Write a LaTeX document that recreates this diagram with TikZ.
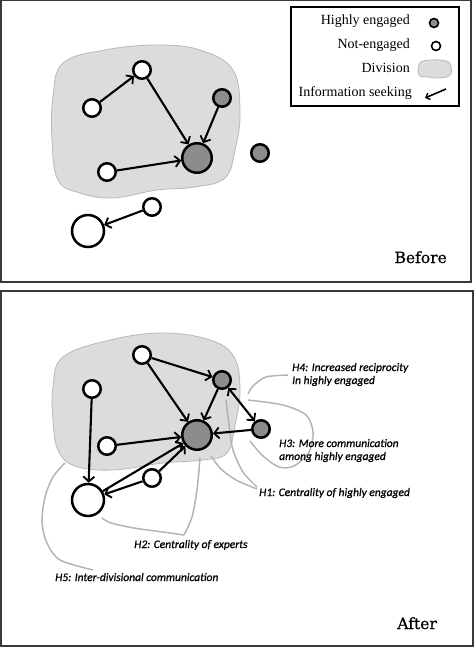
\documentclass[tikz,border=0pt]{standalone}
\usepackage{fontspec}
\setmainfont{Liberation Serif}
\newfontfamily\annfont[FakeBold=0.9]{Carlito}
\newfontfamily\titlefont[FakeBold=0.7]{DejaVu Serif}
\usetikzlibrary{arrows.meta}
\definecolor{hgray}{HTML}{8C8C8C}
\definecolor{blobfill}{HTML}{DCDCDC}
\definecolor{blobline}{HTML}{B8B8B8}
\definecolor{agray}{HTML}{B4B4B4}
\definecolor{panelline}{HTML}{3A3A3A}
\begin{document}
\begin{tikzpicture}[x=1pt,y=-1pt,
  nd/.style={circle,draw=black,line width=2.5pt,inner sep=0pt,minimum size=17.5pt,fill=white},
  hi/.style={nd,fill=hgray},
  bigS/.style={minimum size=29.5pt},
  bigW/.style={minimum size=32pt},
  seek/.style={line width=2.1pt,-{Straight Barb[length=5pt,width=11pt,line width=1.8pt]}},
  seekboth/.style={line width=2.1pt,{Straight Barb[length=5pt,width=11pt,line width=1.8pt]}-{Straight Barb[length=5pt,width=11pt,line width=1.8pt]}},
  ann/.style={draw=agray,line width=1.5pt},
  blobst/.style={fill=blobfill,draw=blobline,line width=0.8pt},
  anntext/.style={font=\annfont\itshape\fontsize{11.5}{13}\selectfont,anchor=base west,inner sep=0pt},
  leg/.style={font=\fontsize{14}{16}\selectfont,anchor=base east,inner sep=0pt},
  ttl/.style={font=\titlefont\fontsize{15.5}{18}\selectfont,anchor=base east,inner sep=0pt},
  panel/.style={draw=panelline,line width=1.5pt},
  lgd/.style={circle,draw=black,line width=1.6pt,inner sep=0pt,minimum size=9pt}
]
\useasboundingbox (0,0) rectangle (474,647);

% ---------------- panels
\draw[panel] (0.75,0.75) rectangle (471,282);
\draw[panel] (0.75,291) rectangle (473,646);

% ---------------- legend
\draw[line width=1.5pt] (291,7) rectangle (459,106);
\node[leg] (l1) at (410,25) {Highly engaged};
\node[leg] (l2) at (410,49) {Not-engaged};
\node[leg] (l3) at (410,73) {Division};
\node[leg] (l4) at (412,97) {Information seeking};
\node[lgd,fill=hgray] (lg1) at (434,23) {};
\node[lgd,fill=white] (lg2) at (436,46) {};
\draw[blobst] plot[smooth cycle,tension=0.7] coordinates {(420,63) (431,60) (446,61) (451,66) (450,75) (440,78) (428,77) (419,75)};
\coordinate (la1) at (446,89);
\coordinate (la2) at (425,98);
\draw[line width=1.6pt,-{Straight Barb[length=3.5pt,width=7pt,line width=1.4pt]}] (la1) -- (la2);

% ---------------- BEFORE
\draw[blobst] plot[smooth cycle,tension=0.65] coordinates {(53,97) (63,63) (105,50) (157,45) (200,50) (233,70) (240,113) (235,150) (225,178) (195,187) (157,190) (113,198) (80,193) (58,180) (52,140)};
\node[nd] (A) at (142,70) {};
\node[nd] (B) at (92,108) {};
\node[hi] (C) at (222,98) {};
\node[hi,bigS] (D) at (197,158) {};
\node[nd] (E) at (107,172) {};
\node[hi] (F) at (260,153) {};
\node[nd] (G) at (152,207) {};
\node[nd,bigW] (H) at (88,231) {};
\draw[seek] (B) -- (A);
\draw[seek] (A) -- (D);
\draw[seek] (C) -- (D);
\draw[seek] (E) -- (D);
\draw[seek] (G) -- (H);
\node[ttl] (before) at (447,263) {Before};

% ---------------- AFTER
\draw[blobst] plot[smooth cycle,tension=0.65] coordinates {(53,387) (63,357) (110,340) (163,333) (210,340) (234,357) (240,390) (235,425) (227,453) (203,460) (163,463) (113,470) (75,466) (58,450) (53,420)};

% annotation curves
\draw[ann] plot[smooth] coordinates {(288,375) (266,377) (253,386) (248,394)};
\draw[ann] plot[smooth] coordinates {(248,400) (283,405) (306,415) (313,432) (309,452) (294,466) (279,467) (263,456) (250,441)};
\draw[ann] plot[smooth] coordinates {(257,489) (236,480) (221,469) (211,456)};
\draw[ann] plot[smooth] coordinates {(257,487) (243,472) (233,450) (229,425) (226,400)};
\draw[ann] plot[smooth] coordinates {(102,518) (111,523) (134,528) (163,532) (184,535)};
\draw[ann] plot[smooth] coordinates {(184,535) (192,517) (197,490) (200,458)};
\draw[ann] plot[smooth] coordinates {(93,570) (60,560) (47,543) (42,522) (45,497) (53,477) (65,463)};

\node[nd] (P) at (142,355) {};
\node[nd] (Q) at (92,389) {};
\node[hi] (R) at (222,380) {};
\node[hi,bigS] (S) at (197,435) {};
\node[hi] (T) at (261,429) {};
\node[nd] (U) at (107,446) {};
\node[nd] (V) at (152,478) {};
\node[nd,bigW] (W) at (88,500) {};
\draw[seek] (P) -- (R);
\draw[seek] (P) -- (S);
\draw[seek] (R) -- (S);
\draw[seek] (T) -- (S);
\draw[seekboth] (R) -- (T);
\draw[seek] (U) -- (S);
\draw[seek] (Q) -- (W);
\draw[seek] (W) -- (S);
\draw[seek] (V) -- (S);
\draw[seek] (V) -- (W);

\node[anntext] (h4a) at (292,371) {H4: Increased reciprocity};
\node[anntext] (h4b) at (292,384) {In highly engaged};
\node[anntext] (h3a) at (279,447) {H3: More communication};
\node[anntext] (h3b) at (279,460) {among highly engaged};
\node[anntext] (h1) at (259,496) {H1: Centrality of highly engaged};
\node[anntext] (h2) at (134,548) {H2: Centrality of experts};
\node[anntext] (h5) at (55,581) {H5: Inter-divisional communication};
\node[ttl] (after) at (437,629) {After};
\end{tikzpicture}
\end{document}
